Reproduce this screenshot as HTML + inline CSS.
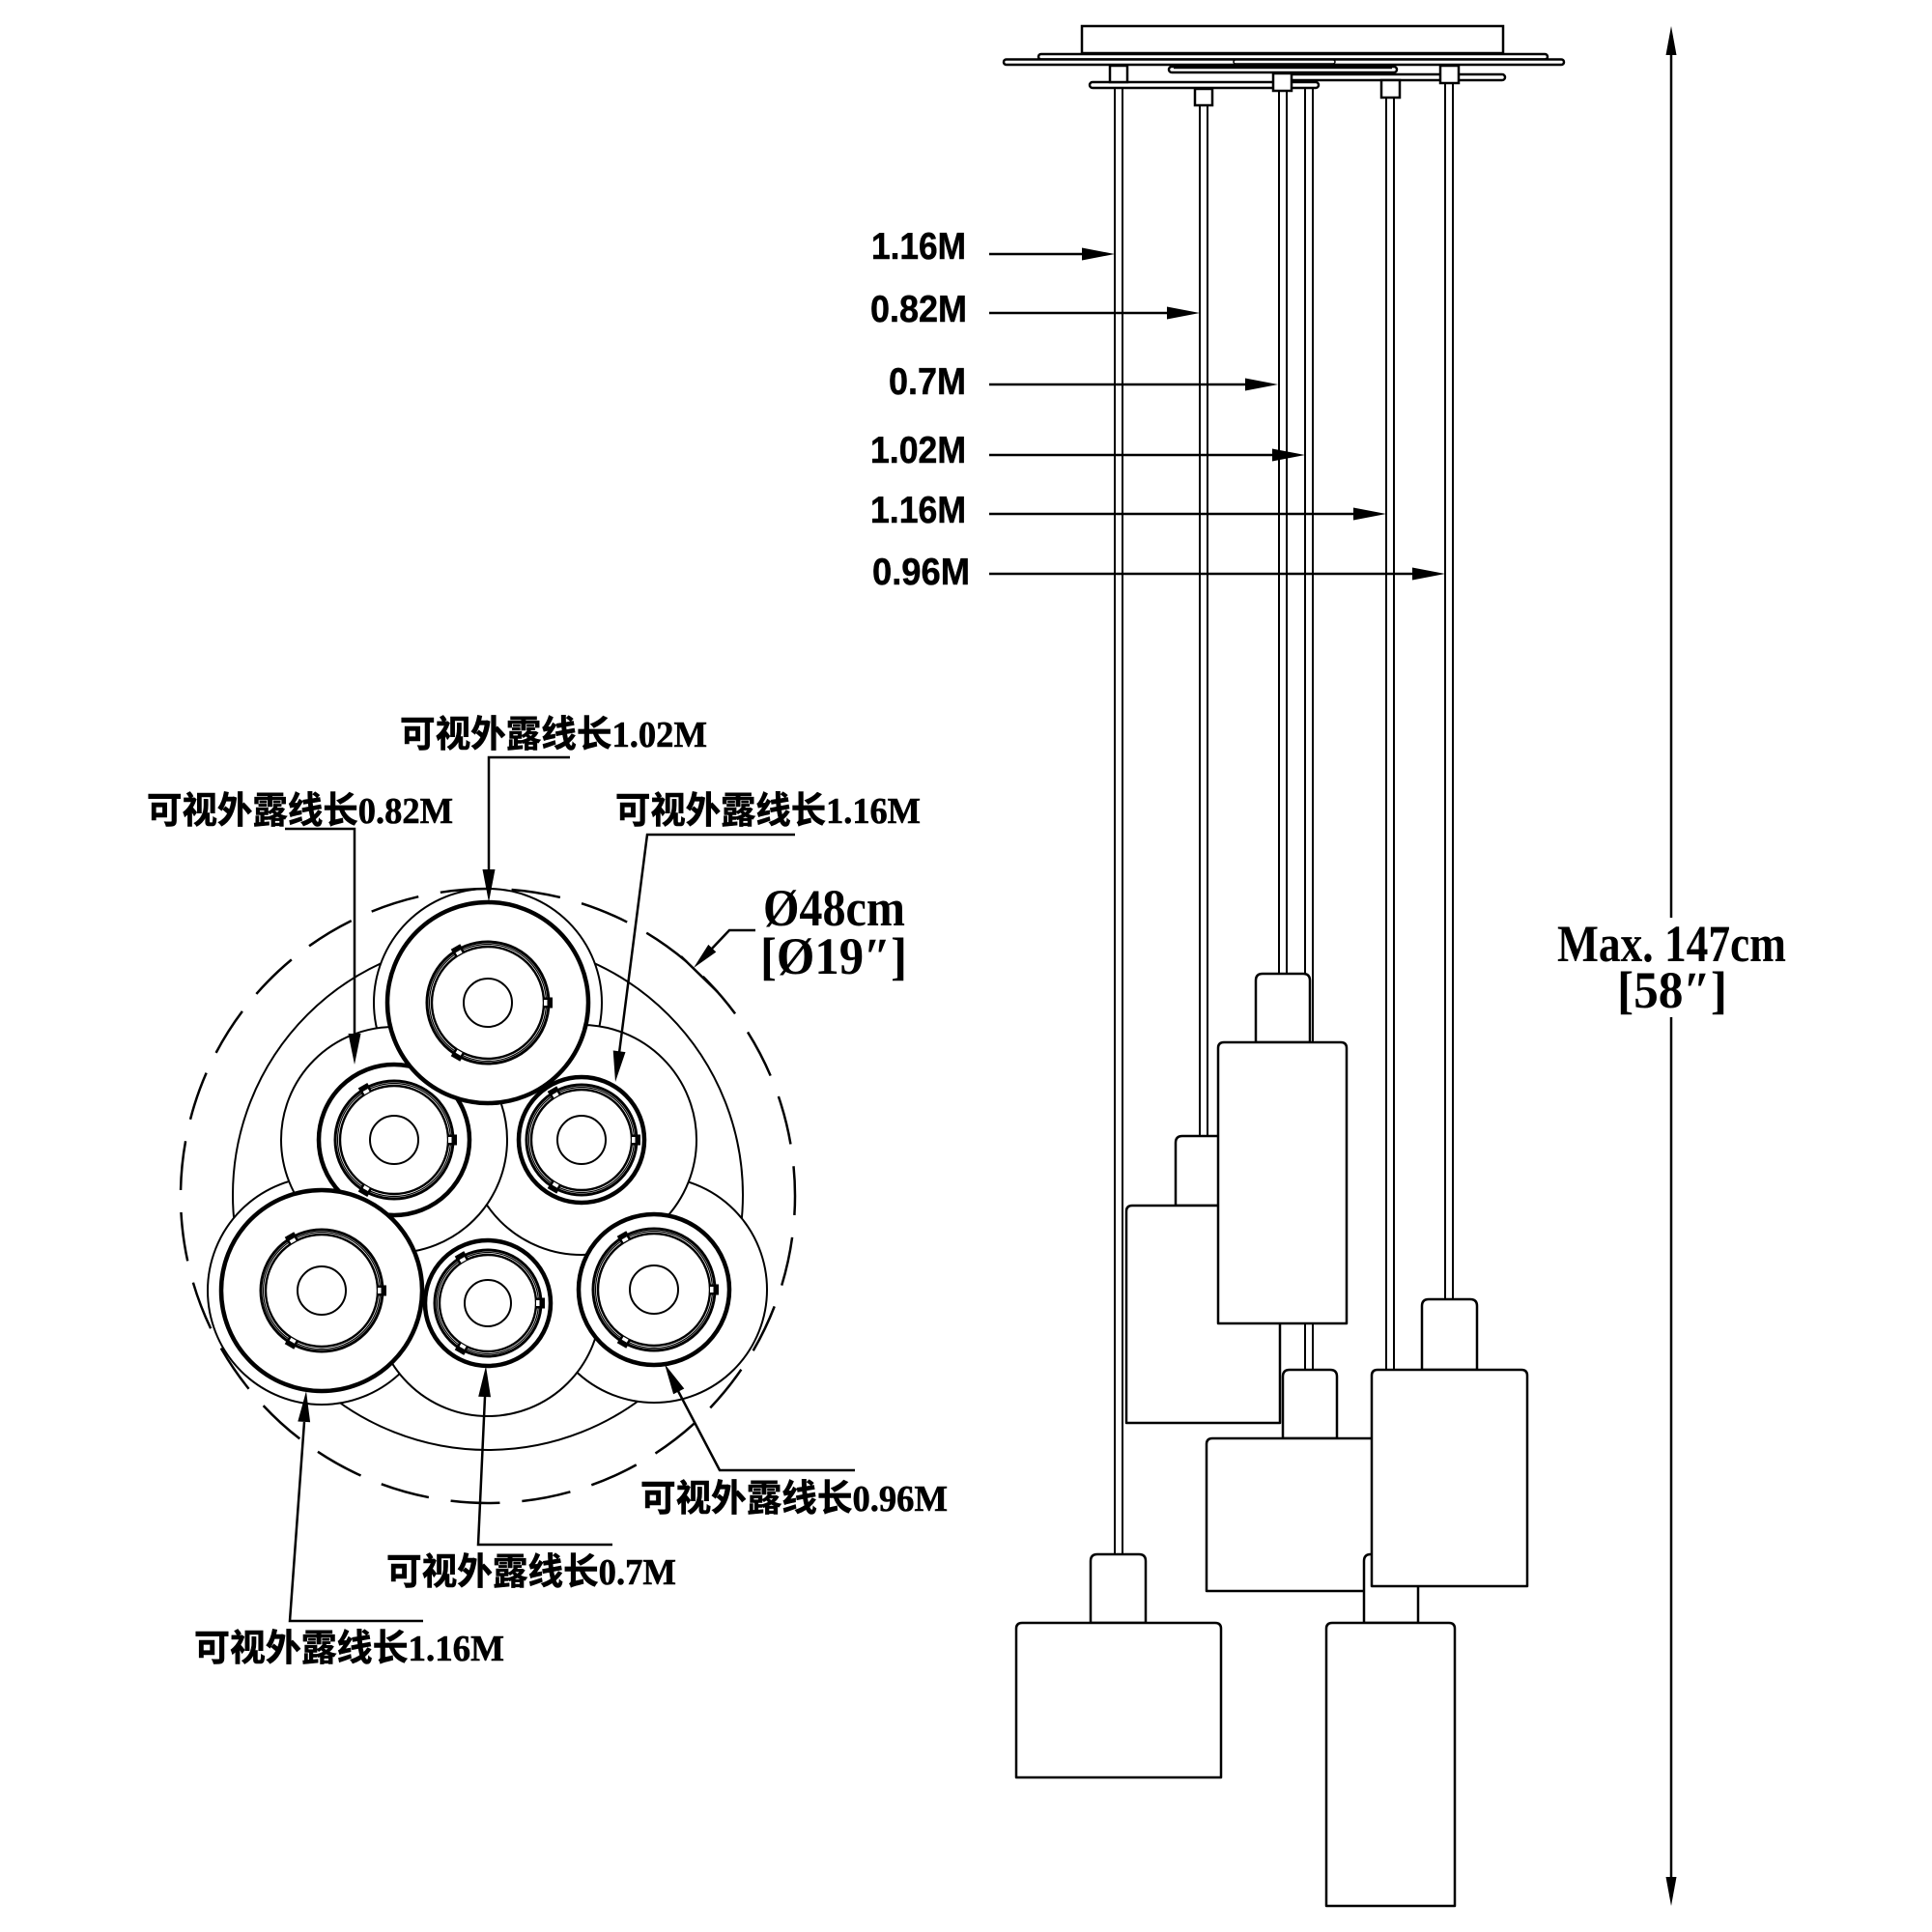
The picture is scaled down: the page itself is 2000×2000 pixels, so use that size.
<!DOCTYPE html>
<html>
<head>
<meta charset="utf-8">
<style>
html,body{margin:0;padding:0;background:#fff;}
svg{display:block;}
</style>
</head>
<body>
<svg width="2000" height="2000" viewBox="0 0 2000 2000" xmlns="http://www.w3.org/2000/svg">
<rect width="2000" height="2000" fill="#fff"/>

<!-- ================= RIGHT: SIDE VIEW ================= -->
<g stroke="#000" stroke-width="2" fill="none">
  <line x1="1154" y1="85" x2="1154" y2="1609"/><line x1="1162" y1="85" x2="1162" y2="1609"/>
  <line x1="1242" y1="109" x2="1242" y2="1176"/><line x1="1250" y1="109" x2="1250" y2="1176"/>
  <line x1="1324" y1="94" x2="1324" y2="1008"/><line x1="1332" y1="94" x2="1332" y2="1008"/>
  <line x1="1351" y1="91" x2="1351" y2="1418"/><line x1="1359" y1="91" x2="1359" y2="1418"/>
  <line x1="1435" y1="101" x2="1435" y2="1609"/><line x1="1443" y1="101" x2="1443" y2="1609"/>
  <line x1="1496" y1="86" x2="1496" y2="1345"/><line x1="1504" y1="86" x2="1504" y2="1345"/>
</g>

<g stroke="#000" stroke-width="2.5" fill="#fff">
  <rect x="1120" y="27" width="436" height="28"/>
  <rect x="1075" y="56" width="527" height="5.5" rx="2.75"/>
  <rect x="1039" y="61.5" width="580" height="5.5" rx="2.75"/>
  <rect x="1277" y="62" width="105" height="4" rx="2" stroke-width="1.5"/>
  <rect x="1210" y="69" width="236" height="6" rx="3"/>
  <line x1="1215" y1="69.5" x2="1441" y2="69.5" stroke-width="3.5"/>
  <rect x="1335" y="77" width="223" height="6" rx="3"/>
  <rect x="1128" y="85" width="237" height="6" rx="3"/>
  <rect x="1149" y="68" width="18" height="17"/>
  <rect x="1237" y="92" width="18" height="17"/>
  <rect x="1318" y="76" width="19" height="18"/>
  <rect x="1430" y="83" width="19" height="18"/>
  <rect x="1491" y="68" width="19" height="18"/>
</g>

<g stroke="#000" stroke-width="2.5" fill="#fff" stroke-linejoin="round">
  <path d="M1217,1248 V1183 Q1217,1176 1224,1176 H1266 Q1273,1176 1273,1183 V1248 Z"/>
  <path d="M1166,1473 V1254 Q1166,1248 1172,1248 H1319 Q1325,1248 1325,1254 V1473 Z"/>
  <path d="M1300,1079 V1015 Q1300,1008 1307,1008 H1349 Q1356,1008 1356,1015 V1079 Z"/>
  <path d="M1261,1370 V1085 Q1261,1079 1267,1079 H1388 Q1394,1079 1394,1085 V1370 Z"/>
  <path d="M1328,1489 V1425 Q1328,1418 1335,1418 H1377 Q1384,1418 1384,1425 V1489 Z"/>
  <path d="M1249,1647 V1495 Q1249,1489 1255,1489 H1457 Q1463,1489 1463,1495 V1647 Z"/>
  <path d="M1412,1680 V1616 Q1412,1609 1419,1609 H1461 Q1468,1609 1468,1616 V1680 Z"/>
  <path d="M1373,1973 V1686 Q1373,1680 1379,1680 H1500 Q1506,1680 1506,1686 V1973 Z"/>
  <path d="M1472,1418 V1352 Q1472,1345 1479,1345 H1522 Q1529,1345 1529,1352 V1418 Z"/>
  <path d="M1420,1642 V1424 Q1420,1418 1426,1418 H1575 Q1581,1418 1581,1424 V1642 Z"/>
  <path d="M1129,1680 V1616 Q1129,1609 1136,1609 H1179 Q1186,1609 1186,1616 V1680 Z"/>
  <path d="M1052,1840 V1686 Q1052,1680 1058,1680 H1258 Q1264,1680 1264,1686 V1840 Z"/>
</g>

<g stroke="#000" stroke-width="2.5">
  <line x1="1024" y1="263" x2="1125" y2="263"/>
  <line x1="1024" y1="324" x2="1212" y2="324"/>
  <line x1="1024" y1="398" x2="1293" y2="398"/>
  <line x1="1024" y1="471" x2="1321" y2="471"/>
  <line x1="1024" y1="532" x2="1405" y2="532"/>
  <line x1="1024" y1="594" x2="1466" y2="594"/>
</g>
<g fill="#000">
  <polygon points="1154,263 1120,256.5 1120,269.5"/>
  <polygon points="1242,324 1208,317.5 1208,330.5"/>
  <polygon points="1323,398 1289,391.5 1289,404.5"/>
  <polygon points="1351,471 1317,464.5 1317,477.5"/>
  <polygon points="1435,532 1401,525.5 1401,538.5"/>
  <polygon points="1496,594 1462,587.5 1462,600.5"/>
</g>
<g font-family="'Liberation Sans', Arial, sans-serif" font-weight="bold" font-size="39" fill="#000" stroke="#000" stroke-width="0.5">
  <text x="902" y="268" textLength="98" lengthAdjust="spacingAndGlyphs">1.16M</text>
  <text x="901" y="333" textLength="100" lengthAdjust="spacingAndGlyphs">0.82M</text>
  <text x="920" y="408" textLength="80" lengthAdjust="spacingAndGlyphs">0.7M</text>
  <text x="901" y="479" textLength="99" lengthAdjust="spacingAndGlyphs">1.02M</text>
  <text x="901" y="541" textLength="99" lengthAdjust="spacingAndGlyphs">1.16M</text>
  <text x="903" y="605" textLength="101" lengthAdjust="spacingAndGlyphs">0.96M</text>
</g>

<g stroke="#000" stroke-width="2.5">
  <line x1="1730" y1="50" x2="1730" y2="950"/>
  <line x1="1730" y1="1053" x2="1730" y2="1950"/>
</g>
<polygon points="1730,27 1724.5,57 1735.5,57" fill="#000"/>
<polygon points="1730,1973 1724.5,1943 1735.5,1943" fill="#000"/>
<text x="1612" y="995" font-family="'Liberation Serif', serif" font-weight="bold" font-size="54" textLength="237" lengthAdjust="spacingAndGlyphs">Max. 147cm</text>
<text x="1674" y="1043" font-family="'Liberation Serif', 'DejaVu Serif', serif" font-weight="bold" font-size="54" textLength="114" lengthAdjust="spacingAndGlyphs">[58″]</text>

<!-- ================= LEFT: TOP VIEW ================= -->
<circle cx="505" cy="1237" r="264" fill="#fff" stroke="#000" stroke-width="2"/>
<g fill="#fff" stroke="#000" stroke-width="2">
  <circle cx="505" cy="1038" r="118"/>
  <circle cx="333" cy="1336" r="118"/>
  <circle cx="677" cy="1335" r="117"/>
  <circle cx="505" cy="1349" r="117"/>
  <circle cx="602" cy="1180" r="119"/>
  <circle cx="408" cy="1180" r="117"/>
</g>

<g stroke="#000" fill="none">
  <circle cx="408" cy="1180" r="78" fill="#fff" stroke-width="4.5"/>
  <circle cx="408" cy="1180" r="61" stroke-width="3"/>
  <circle cx="408" cy="1180" r="58.5" stroke-width="1.2"/>
  <circle cx="408" cy="1180" r="56" stroke-width="2.4"/>
  <circle cx="408" cy="1180" r="25" stroke-width="2"/>

  <circle cx="602" cy="1180" r="65" fill="#fff" stroke-width="4.5"/>
  <circle cx="602" cy="1180" r="57" stroke-width="3"/>
  <circle cx="602" cy="1180" r="54.5" stroke-width="1.2"/>
  <circle cx="602" cy="1180" r="52" stroke-width="2.4"/>
  <circle cx="602" cy="1180" r="25" stroke-width="2"/>

  <circle cx="333" cy="1336" r="104" fill="#fff" stroke-width="4.5"/>
  <circle cx="333" cy="1336" r="63" stroke-width="3"/>
  <circle cx="333" cy="1336" r="60.5" stroke-width="1.2"/>
  <circle cx="333" cy="1336" r="58" stroke-width="2.4"/>
  <circle cx="333" cy="1336" r="25" stroke-width="2"/>

  <circle cx="505" cy="1349" r="65" fill="#fff" stroke-width="4.5"/>
  <circle cx="505" cy="1349" r="55" stroke-width="3"/>
  <circle cx="505" cy="1349" r="52.5" stroke-width="1.2"/>
  <circle cx="505" cy="1349" r="50" stroke-width="2.4"/>
  <circle cx="505" cy="1349" r="24" stroke-width="2"/>

  <circle cx="677" cy="1335" r="78" fill="#fff" stroke-width="4.5"/>
  <circle cx="677" cy="1335" r="63" stroke-width="3"/>
  <circle cx="677" cy="1335" r="60.5" stroke-width="1.2"/>
  <circle cx="677" cy="1335" r="58" stroke-width="2.4"/>
  <circle cx="677" cy="1335" r="25" stroke-width="2"/>

  <circle cx="505" cy="1038" r="104" fill="#fff" stroke-width="4.5"/>
  <circle cx="505" cy="1038" r="63" stroke-width="3"/>
  <circle cx="505" cy="1038" r="60.5" stroke-width="1.2"/>
  <circle cx="505" cy="1038" r="58" stroke-width="2.4"/>
  <circle cx="505" cy="1038" r="25" stroke-width="2"/>
</g>

<g fill="#000">
  <g transform="rotate(0 408 1180)"><rect x="464" y="1174.5" width="9" height="11"/><rect x="464" y="1177" width="3.5" height="6" fill="#fff"/></g>
  <g transform="rotate(120 408 1180)"><rect x="464" y="1174.5" width="9" height="11"/><rect x="464" y="1177" width="3.5" height="6" fill="#fff"/></g>
  <g transform="rotate(240 408 1180)"><rect x="464" y="1174.5" width="9" height="11"/><rect x="464" y="1177" width="3.5" height="6" fill="#fff"/></g>
  <g transform="rotate(0 602 1180)"><rect x="654" y="1174.5" width="9" height="11"/><rect x="654" y="1177" width="3.5" height="6" fill="#fff"/></g>
  <g transform="rotate(120 602 1180)"><rect x="654" y="1174.5" width="9" height="11"/><rect x="654" y="1177" width="3.5" height="6" fill="#fff"/></g>
  <g transform="rotate(240 602 1180)"><rect x="654" y="1174.5" width="9" height="11"/><rect x="654" y="1177" width="3.5" height="6" fill="#fff"/></g>
  <g transform="rotate(0 333 1336)"><rect x="391" y="1330.5" width="9" height="11"/><rect x="391" y="1333" width="3.5" height="6" fill="#fff"/></g>
  <g transform="rotate(120 333 1336)"><rect x="391" y="1330.5" width="9" height="11"/><rect x="391" y="1333" width="3.5" height="6" fill="#fff"/></g>
  <g transform="rotate(240 333 1336)"><rect x="391" y="1330.5" width="9" height="11"/><rect x="391" y="1333" width="3.5" height="6" fill="#fff"/></g>
  <g transform="rotate(0 505 1349)"><rect x="555" y="1343.5" width="9" height="11"/><rect x="555" y="1346" width="3.5" height="6" fill="#fff"/></g>
  <g transform="rotate(120 505 1349)"><rect x="555" y="1343.5" width="9" height="11"/><rect x="555" y="1346" width="3.5" height="6" fill="#fff"/></g>
  <g transform="rotate(240 505 1349)"><rect x="555" y="1343.5" width="9" height="11"/><rect x="555" y="1346" width="3.5" height="6" fill="#fff"/></g>
  <g transform="rotate(0 677 1335)"><rect x="735" y="1329.5" width="9" height="11"/><rect x="735" y="1332" width="3.5" height="6" fill="#fff"/></g>
  <g transform="rotate(120 677 1335)"><rect x="735" y="1329.5" width="9" height="11"/><rect x="735" y="1332" width="3.5" height="6" fill="#fff"/></g>
  <g transform="rotate(240 677 1335)"><rect x="735" y="1329.5" width="9" height="11"/><rect x="735" y="1332" width="3.5" height="6" fill="#fff"/></g>
  <g transform="rotate(0 505 1038)"><rect x="563" y="1032.5" width="9" height="11"/><rect x="563" y="1035" width="3.5" height="6" fill="#fff"/></g>
  <g transform="rotate(120 505 1038)"><rect x="563" y="1032.5" width="9" height="11"/><rect x="563" y="1035" width="3.5" height="6" fill="#fff"/></g>
  <g transform="rotate(240 505 1038)"><rect x="563" y="1032.5" width="9" height="11"/><rect x="563" y="1035" width="3.5" height="6" fill="#fff"/></g>
</g>

<circle cx="505" cy="1238" r="318" fill="none" stroke="#000" stroke-width="2.5" stroke-dasharray="51 23" stroke-dashoffset="31"/>
<line x1="705" y1="990" x2="743" y2="1027" stroke="#000" stroke-width="2.5"/>

<g stroke="#000" stroke-width="2.5" fill="none">
  <polyline points="590,784 506,784 506,905"/>
  <polyline points="295,858 367,858 367,1072"/>
  <polyline points="823,864 670,864 641,1090"/>
  <polyline points="885,1522 745,1522 702,1440"/>
  <polyline points="634,1599 495,1599 502,1446"/>
  <polyline points="438,1678 300,1678 315,1472"/>
  <polyline points="782,963 755,963 736,983"/>
</g>
<g fill="#000">
  <polygon points="506,934 499.5,900 512.5,900"/>
  <polygon points="367,1102 360.5,1070 373.5,1070"/>
  <polygon points="637,1120 647.5,1089.1 634.7,1087.5"/>
  <polygon points="688,1412 708.3,1437.5 697.1,1443.3"/>
  <polygon points="503,1414 508,1446.3 495.2,1445.7"/>
  <polygon points="317,1440 321.1,1472.3 308.3,1471.5"/>
  <polygon points="718,1002 741.3,985.5 733.3,977.9"/>
</g>

<g font-family="'Liberation Serif', 'Noto Sans CJK SC', sans-serif" font-weight="bold" font-size="38" fill="#000" stroke="#000" stroke-width="0.6">
  <text x="414" y="773" textLength="318" lengthAdjust="spacingAndGlyphs">可视外露线长1.02M</text>
  <text x="152" y="852" textLength="317" lengthAdjust="spacingAndGlyphs">可视外露线长0.82M</text>
  <text x="637" y="852" textLength="316" lengthAdjust="spacingAndGlyphs">可视外露线长1.16M</text>
  <text x="663" y="1564" textLength="318" lengthAdjust="spacingAndGlyphs">可视外露线长0.96M</text>
  <text x="400" y="1640" textLength="300" lengthAdjust="spacingAndGlyphs">可视外露线长0.7M</text>
  <text x="201" y="1719" textLength="321" lengthAdjust="spacingAndGlyphs">可视外露线长1.16M</text>
</g>

<text x="790" y="958" font-family="'Liberation Serif', 'DejaVu Serif', serif" font-weight="bold" font-size="54" textLength="147" lengthAdjust="spacingAndGlyphs">Ø48cm</text>
<text x="787" y="1008" font-family="'Liberation Serif', 'DejaVu Serif', serif" font-weight="bold" font-size="54" textLength="152" lengthAdjust="spacingAndGlyphs">[Ø19″]</text>

</svg>
</body>
</html>
